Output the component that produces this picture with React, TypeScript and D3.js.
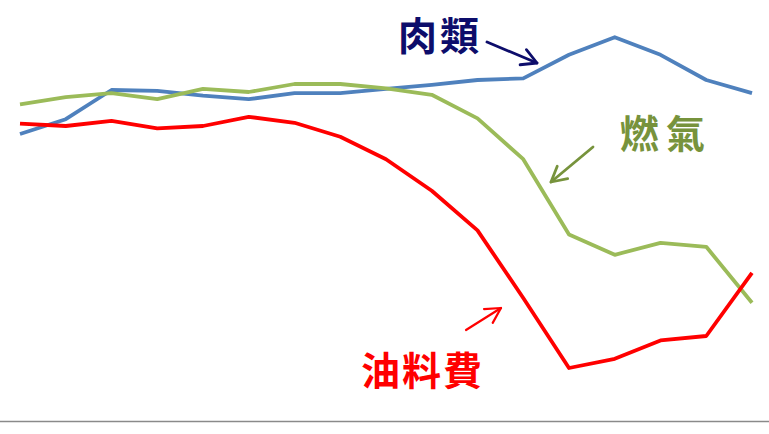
import React from 'react'
import * as d3 from 'd3'

// 17 periods, no axis labels shown in the original
const periods = d3.range(17)

// index values
const meat = [74.0, 77.7, 85.0, 84.8, 83.6, 82.7, 84.2, 84.2, 85.3, 86.3, 87.5, 87.9, 93.8, 98.2, 93.8, 87.5, 84.2]
const gas = [81.4, 83.2, 84.2, 82.7, 85.3, 84.5, 86.5, 86.5, 85.4, 83.8, 77.9, 67.7, 48.9, 43.8, 46.8, 45.8, 31.8]
const fuel = [76.6, 76.0, 77.3, 75.4, 76.0, 78.3, 76.8, 73.3, 67.7, 59.8, 49.9, 33.0, 15.5, 17.8, 22.4, 23.5, 39.3]

const W = 769
const H = 434

const series = [
  { name: '肉類', values: meat, color: '#4F81BD' },
  { name: '燃氣', values: gas, color: '#9BBB59' },
  { name: '油料費', values: fuel, color: '#FF0000' },
]

// label + arrow annotations (positions only, in pixels)
const notes = [
  { text: '肉類', color: '#0D0D6B', x: 398, y: 50, ls: 3, arrow: [487, 42, 537, 63], aw: 2.8 },
  { text: '燃氣', color: '#77933C', x: 620, y: 148, ls: 7, arrow: [593, 147, 551, 182], aw: 2.8 },
  { text: '油料費', color: '#FF0000', x: 361, y: 385, ls: 2, arrow: [466, 330, 501, 308], aw: 2.2 },
]

function Arrow({ a, color, w }: { a: number[]; color: string; w: number }) {
  const [x1, y1, x2, y2] = a
  const ang = Math.atan2(y2 - y1, x2 - x1)
  const len = 17
  const spread = 0.5
  const h1 = [x2 - len * Math.cos(ang - spread), y2 - len * Math.sin(ang - spread)]
  const h2 = [x2 - len * Math.cos(ang + spread), y2 - len * Math.sin(ang + spread)]
  return (
    <g stroke={color} strokeWidth={w} fill="none" strokeLinecap="round" strokeLinejoin="round">
      <line x1={x1} y1={y1} x2={x2} y2={y2} />
      <polyline points={`${h1[0]},${h1[1]} ${x2},${y2} ${h2[0]},${h2[1]}`} />
    </g>
  )
}

export default function App() {
  const x = d3.scaleLinear().domain([0, 16]).range([20, 752])
  const y = d3.scaleLinear().domain([0, 100]).range([430, 30])

  const line = d3.line<number>()
    .x((_, i) => x(periods[i]))
    .y(d => y(d))

  return (
    <svg width={W} height={H} style={{ position: 'absolute', left: 0, top: 0, background: '#fff' }}>
      <line x1={0} x2={W} y1={421.5} y2={421.5} stroke="#8a8a8a" strokeWidth={1.6} />
      {series.map(s => (
        <path key={s.name} d={line(s.values) || ''} fill="none" stroke={s.color} strokeWidth={3.8} strokeLinejoin="round" />
      ))}
      {notes.map(n => (
        <g key={n.text}>
          <text x={n.x} y={n.y} fill={n.color} fontFamily="'Noto Sans CJK TC', 'Noto Sans CJK SC', sans-serif"
            fontWeight={700} fontSize={39} letterSpacing={n.ls}>{n.text}</text>
          <Arrow a={n.arrow} color={n.color} w={n.aw} />
        </g>
      ))}
    </svg>
  )
}
